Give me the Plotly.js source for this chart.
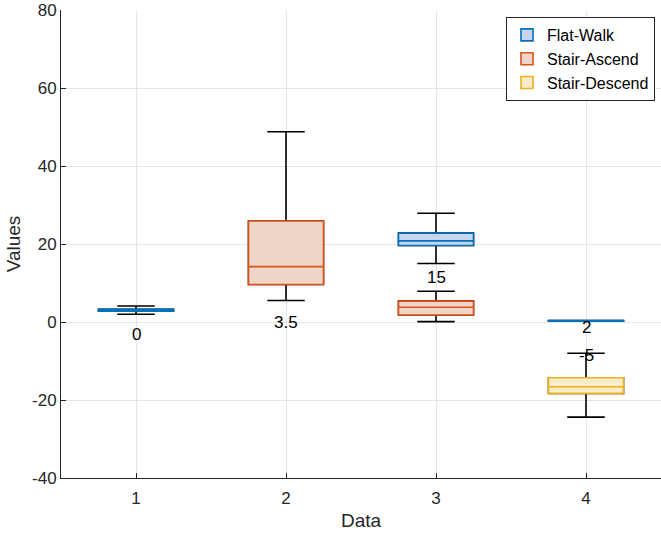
<!DOCTYPE html>
<html>
<head>
<meta charset="utf-8">
<script src="https://cdn.plot.ly/plotly-3.0.1.min.js"></script>
<style>html,body{margin:0;padding:0;background:#fff;}#chart{width:661px;height:533px;}</style>
</head>
<body>
<div id="chart"></div>
<script>
// Data
const fwX = [1, 3, 4];
const fwQ1 = [2.75, 19.6, 0.2];
const fwMed = [3.0, 20.8, 0.3];
const fwQ3 = [3.25, 22.8, 0.4];
const fwLo = [2.0, 15.0, 0.2];
const fwHi = [4.1, 27.9, 0.4];

const saX = [2, 3];
const saQ1 = [9.6, 1.8];
const saMed = [14.2, 3.8];
const saQ3 = [25.9, 5.35];
const saLo = [5.5, 0.1];
const saHi = [48.8, 7.9];

const sdX = [4];
const sdQ1 = [-18.3];
const sdMed = [-16.6];
const sdQ3 = [-14.3];
const sdLo = [-24.4];
const sdHi = [-8.0];

const labelX = [1, 2, 3, 4, 4];
const labelY = [-3.1, 0, 11.5, -1.5, -8.7];
const labelText = ['0', '3.5', '15', '2', '-5'];

const xTicks = [1, 2, 3, 4];
const yTicks = [-40, -20, 0, 20, 40, 60, 80];

const FONT = 'Liberation Sans, Arial, Helvetica, sans-serif';

const groups = [
  {name: 'Flat-Walk', x: fwX, q1: fwQ1, med: fwMed, q3: fwQ3, lo: fwLo, hi: fwHi, line: '#0072BD', fill: '#c9d5ee'},
  {name: 'Stair-Ascend', x: saX, q1: saQ1, med: saMed, q3: saQ3, lo: saLo, hi: saHi, line: '#D95319', fill: '#f0d6c8'},
  {name: 'Stair-Descend', x: sdX, q1: sdQ1, med: sdMed, q3: sdQ3, lo: sdLo, hi: sdHi, line: '#EDB120', fill: '#f9eccb'}
];

const traces = [];
// whiskers (black)
groups.forEach(g => {
  traces.push({
    type: 'box', x: g.x, q1: g.q1, median: g.med, q3: g.q3,
    lowerfence: g.lo, upperfence: g.hi,
    width: 0.5, whiskerwidth: 0.5, boxpoints: false,
    line: {color: '#000000', width: 1.6}, fillcolor: 'rgba(0,0,0,0)',
    showlegend: false, hoverinfo: 'skip'
  });
});
// colored boxes
groups.forEach(g => {
  traces.push({
    type: 'box', name: g.name, x: g.x, q1: g.q1, median: g.med, q3: g.q3,
    lowerfence: g.q1, upperfence: g.q3,
    width: 0.5, whiskerwidth: 0, boxpoints: false,
    line: {color: g.line, width: 1.6}, fillcolor: g.fill,
    hoverinfo: 'skip'
  });
});

const annotations = labelText.map((t, i) => ({
  x: labelX[i], y: labelY[i], xref: 'x', yref: 'y', text: t,
  showarrow: false, font: {family: FONT, size: 17, color: '#000'}
}));

const layout = {
  width: 661, height: 533,
  margin: {l: 61, r: 0, t: 10, b: 55},
  paper_bgcolor: '#fff', plot_bgcolor: '#fff',
  boxmode: 'overlay',
  font: {family: FONT, size: 17, color: '#262626'},
  xaxis: {
    range: [0.5, 4.5], tickvals: xTicks, ticktext: xTicks.map(String),
    showgrid: true, gridcolor: '#e5e5e5', gridwidth: 1,
    zeroline: false, showline: true, linecolor: '#262626', linewidth: 1,
    ticks: 'inside', ticklen: 5, tickcolor: '#262626',
    ticklabelstandoff: 5, ticklabeloverflow: 'allow',
    title: {text: 'Data', font: {size: 19, color: '#262626'}, standoff: 6},
    tickfont: {size: 17, color: '#262626'}
  },
  yaxis: {
    range: [-40, 80], tickvals: yTicks, ticktext: yTicks.map(String),
    showgrid: true, gridcolor: '#e5e5e5', gridwidth: 1,
    zeroline: false, showline: true, linecolor: '#262626', linewidth: 1,
    ticks: 'inside', ticklen: 5, tickcolor: '#262626',
    ticklabeloverflow: 'allow',
    title: {text: 'Values', font: {size: 19, color: '#262626'}, standoff: 6},
    tickfont: {size: 17, color: '#262626'}
  },
  legend: {
    x: 0.99, y: 0.985, xanchor: 'right', yanchor: 'top',
    bgcolor: '#fff', bordercolor: '#262626', borderwidth: 1,
    font: {size: 16, color: '#000'}, tracegroupgap: 0
  },
  annotations: annotations
};

Plotly.newPlot('chart', traces, layout, {displayModeBar: false, staticPlot: true});
</script>
</body>
</html>
